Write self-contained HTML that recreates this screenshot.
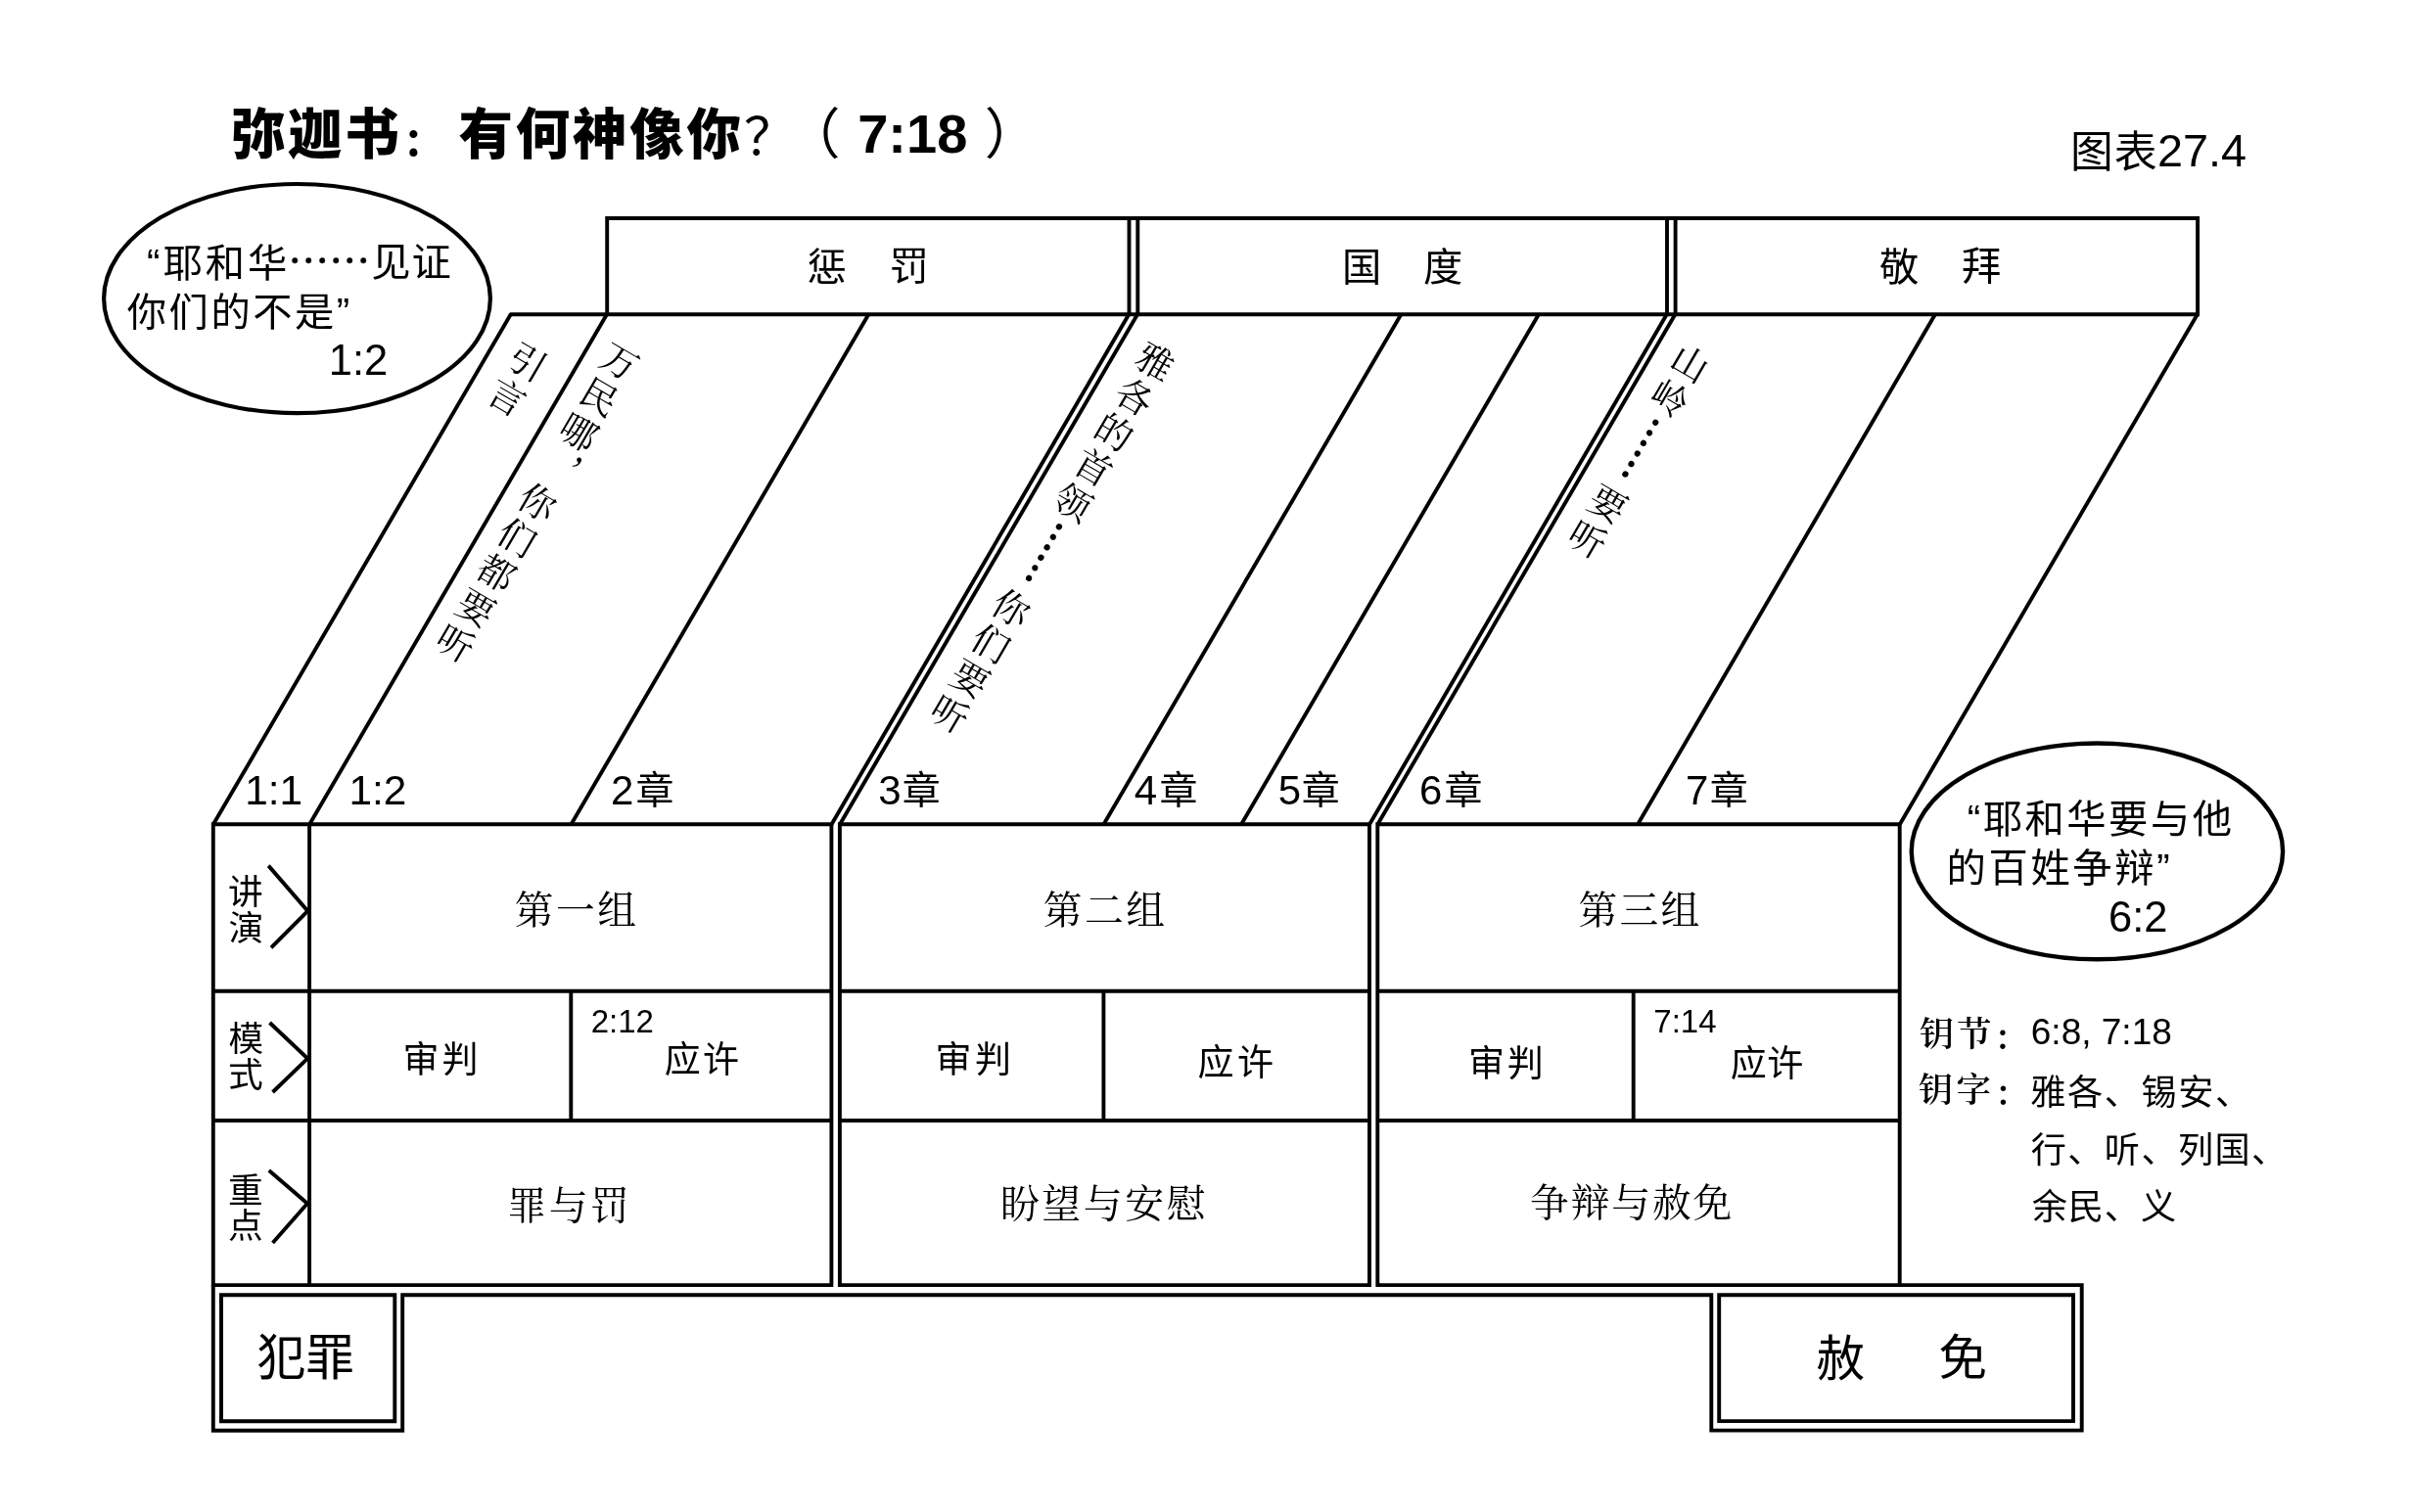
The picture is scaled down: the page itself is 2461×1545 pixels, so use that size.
<!DOCTYPE html>
<html lang="zh-CN"><head><meta charset="utf-8"><title>弥迦书：有何神像你？</title>
<style>
html,body{margin:0;padding:0;background:#fff;}
body{width:2461px;height:1545px;overflow:hidden;}
svg{display:block;filter:grayscale(1);}
.ln{fill:none;stroke:#000;stroke-width:3.9;stroke-linecap:butt;stroke-linejoin:miter;}
text{fill:#000;}
.sans{font-family:"Liberation Sans","Noto Sans CJK SC",sans-serif;}
.cjk{font-family:"Noto Sans CJK SC","Liberation Sans",sans-serif;}
.song{font-family:"Liberation Serif","Noto Serif CJK SC",serif;}
.kai{font-family:"Noto Serif CJK SC","Liberation Serif",serif;font-weight:400;}
</style></head><body>
<svg width="2461" height="1545" viewBox="0 0 2461 1545">
<rect x="0" y="0" width="2461" height="1545" fill="#fff"/>
<!-- header boxes -->
<path class="ln" d="M620.2 223.0 L2245.1 223.0 L2245.1 321.2 L620.2 321.2 Z"/>
<line class="ln" x1="1153.5" y1="223.0" x2="1153.5" y2="321.2"/>
<line class="ln" x1="1162.3" y1="223.0" x2="1162.3" y2="321.2"/>
<line class="ln" x1="1703.0" y1="223.0" x2="1703.0" y2="321.2"/>
<line class="ln" x1="1711.6" y1="223.0" x2="1711.6" y2="321.2"/>
<!-- slanted chapter band -->
<line class="ln" x1="520.8" y1="321.2" x2="620.2" y2="321.2"/>
<line class="ln" x1="217.8" y1="842.6" x2="522.0" y2="320.8"/>
<line class="ln" x1="316.1" y1="842.6" x2="620.2" y2="320.8"/>
<line class="ln" x1="583.4" y1="842.6" x2="887.6" y2="320.8"/>
<line class="ln" x1="849.4" y1="842.6" x2="1153.5" y2="320.8"/>
<line class="ln" x1="857.9" y1="842.6" x2="1162.3" y2="320.8"/>
<line class="ln" x1="1127.4" y1="842.6" x2="1431.6" y2="320.8"/>
<line class="ln" x1="1268.0" y1="842.6" x2="1572.2" y2="320.8"/>
<line class="ln" x1="1399.0" y1="842.6" x2="1703.0" y2="320.8"/>
<line class="ln" x1="1407.3" y1="842.6" x2="1711.6" y2="320.8"/>
<line class="ln" x1="1673.0" y1="842.6" x2="1977.2" y2="320.8"/>
<line class="ln" x1="1940.7" y1="842.6" x2="2245.1" y2="320.8"/>
<!-- table -->
<path class="ln" d="M217.8 842.2 L849.4 842.2 L849.4 1313.1 L217.8 1313.1 Z"/>
<line class="ln" x1="217.8" y1="1012.8" x2="849.4" y2="1012.8"/>
<line class="ln" x1="217.8" y1="1145.0" x2="849.4" y2="1145.0"/>
<path class="ln" d="M857.9 842.2 L1399.0 842.2 L1399.0 1313.1 L857.9 1313.1 Z"/>
<line class="ln" x1="857.9" y1="1012.8" x2="1399.0" y2="1012.8"/>
<line class="ln" x1="857.9" y1="1145.0" x2="1399.0" y2="1145.0"/>
<path class="ln" d="M1407.3 842.2 L1940.7 842.2 L1940.7 1313.1 L1407.3 1313.1 Z"/>
<line class="ln" x1="1407.3" y1="1012.8" x2="1940.7" y2="1012.8"/>
<line class="ln" x1="1407.3" y1="1145.0" x2="1940.7" y2="1145.0"/>
<line class="ln" x1="316.1" y1="842.2" x2="316.1" y2="1313.1"/>
<line class="ln" x1="583.3" y1="1012.8" x2="583.3" y2="1145.0"/>
<line class="ln" x1="1127.4" y1="1012.8" x2="1127.4" y2="1145.0"/>
<line class="ln" x1="1668.7" y1="1012.8" x2="1668.7" y2="1145.0"/>
<!-- row arrows -->
<path class="ln" d="M274.3 884.6 L314.4 931.0 L277.0 968.4"/>
<path class="ln" d="M275.5 1045.0 L314.2 1081.6 L278.6 1116.0"/>
<path class="ln" d="M274.8 1196.0 L314.0 1229.7 L278.6 1270.0"/>
<!-- bottom frame -->
<path class="ln" d="M1940.7 1313.1 L2126.7 1313.1 L2126.7 1461.6 L1748.3 1461.6 L1748.3 1323.2 L411.2 1323.2 L411.2 1461.7 L217.8 1461.7 L217.8 1313.1"/>
<path class="ln" d="M226.0 1323.2 L403.3 1323.2 L403.3 1452.3 L226.0 1452.3 Z"/>
<path class="ln" d="M1756.2 1323.3 L2118.0 1323.3 L2118.0 1452.1 L1756.2 1452.1 Z"/>
<!-- ellipses -->
<ellipse class="ln" cx="303.5" cy="305.1" rx="197.4" ry="117.1" style="stroke-width:4.2"/>
<ellipse class="ln" cx="2142.4" cy="869.9" rx="189.7" ry="110.4" style="stroke-width:4.4"/>
<!-- labels -->
<text id="t1" class="cjk" x="235.8 294.0 352.2 412.8 468.6 526.8 585.0 643.2 701.4" y="157.1 157.1 157.1 159.0 157.1 157.1 157.1 157.1 157.1" style="font-size:55.5px;font-weight:900;">弥迦书<tspan style="font-size:38.5px">：</tspan>有何神像你</text>
<text id="t2" class="cjk" x="760.1" y="159.2" style="font-size:53.5px;">？</text>
<text id="t3" class="cjk" x="802.4" y="156.8" style="font-size:56px;">（</text>
<text id="t4" class="sans" x="876.2" y="155.5" style="font-size:56px;font-weight:700;">7:18</text>
<text id="t5" class="cjk" x="1005.8" y="156.8" style="font-size:56px;">）</text>
<text id="fig1" class="sans" x="2115.0 2159.8" y="171.2" style="font-size:43.8px;">图表</text>
<text id="fig2" class="sans" x="2203.9" y="170.3" style="font-size:46.8px;">27.4</text>
<text id="h1a" class="sans" x="824.6" y="286.8" style="font-size:40.3px;">惩</text>
<text id="h1b" class="sans" x="908.4" y="285.8" style="font-size:40.3px;">罚</text>
<text id="h2a" class="sans" x="1371.0" y="286.9" style="font-size:40.3px;">国</text>
<text id="h2b" class="sans" x="1454.0" y="286.9" style="font-size:40.3px;">度</text>
<text id="h3a" class="sans" x="1920.0" y="286.8" style="font-size:40.3px;">敬</text>
<text id="h3b" class="sans" x="2004.0" y="286.3" style="font-size:40.3px;">拜</text>
<text id="e1a" class="sans" x="150.0" y="283.2" style="font-size:40.3px;letter-spacing:2.99px;">“耶和华</text>
<text id="e1b" class="cjk" x="294.2" y="281.9" style="font-size:42px;stroke:#000;stroke-width:0.4px;">……</text>
<text id="e1c" class="sans" x="379.2" y="282.2" style="font-size:40.3px;letter-spacing:1.09px;">见证</text>
<text id="e1d" class="sans" x="129.8" y="333.2" style="font-size:40.3px;letter-spacing:2.5px;">你们的不是”</text>
<text id="e1e" class="sans" x="335.7" y="383.2" style="font-size:43.5px;">1:2</text>
<text id="e2a" class="sans" x="2009.8" y="851.4" style="font-size:40.3px;letter-spacing:2.5px;">“耶和华要与他</text>
<text id="e2b" class="sans" x="1988.6" y="901.3" style="font-size:40.3px;letter-spacing:2.62px;">的百姓争辩”</text>
<text id="e2c" class="sans" x="2154.0" y="951.9" style="font-size:43.5px;">6:2</text>
<text id="c11" class="sans" x="250.2" y="822.3" style="font-size:42.4px;">1:1</text>
<text id="c12" class="sans" x="356.4" y="822.3" style="font-size:42.4px;">1:2</text>
<text id="cd2" class="sans" x="624.0" y="821.8" style="font-size:42px;">2</text>
<text id="cz2" class="sans" x="649.4" y="821.1" style="font-size:39px;">章</text>
<text id="cd3" class="sans" x="897.2" y="821.8" style="font-size:42px;">3</text>
<text id="cz3" class="sans" x="921.8" y="821.1" style="font-size:39px;">章</text>
<text id="cd4" class="sans" x="1158.8" y="821.8" style="font-size:42px;">4</text>
<text id="cz4" class="sans" x="1184.4" y="821.1" style="font-size:39px;">章</text>
<text id="cd5" class="sans" x="1305.7" y="821.8" style="font-size:42px;">5</text>
<text id="cz5" class="sans" x="1329.8" y="821.1" style="font-size:39px;">章</text>
<text id="cd6" class="sans" x="1450.0" y="821.8" style="font-size:42px;">6</text>
<text id="cz6" class="sans" x="1475.4" y="821.1" style="font-size:39px;">章</text>
<text id="cd7" class="sans" x="1721.9" y="821.8" style="font-size:42px;">7</text>
<text id="cz7" class="sans" x="1746.8" y="821.1" style="font-size:39px;">章</text>
<text id="r1a" class="sans" x="233.0" y="923.5" style="font-size:35.7px;">讲</text>
<text id="r1b" class="sans" x="233.5" y="960.7" style="font-size:35.7px;">演</text>
<text id="r2a" class="sans" x="233.5" y="1074.1" style="font-size:35.7px;">模</text>
<text id="r2b" class="sans" x="233.0" y="1111.4" style="font-size:35.7px;">式</text>
<text id="r3a" class="sans" x="233.1" y="1229.2" style="font-size:35.7px;">重</text>
<text id="r3b" class="sans" x="233.1" y="1265.4" style="font-size:35.7px;">点</text>
<text id="g1" class="song" x="525.7" y="943.7" style="font-size:39.8px;letter-spacing:2.49px;">第一组</text>
<text id="g2" class="song" x="1065.7" y="943.7" style="font-size:39.8px;letter-spacing:2.49px;">第二组</text>
<text id="g3" class="song" x="1612.4" y="944.1" style="font-size:39.8px;letter-spacing:2.22px;">第三组</text>
<text id="j1" class="sans" x="411.6" y="1095.8" style="font-size:37px;letter-spacing:2.93px;">审判</text>
<text id="j2" class="sans" x="955.4" y="1095.8" style="font-size:37px;letter-spacing:3.72px;">审判</text>
<text id="j3" class="sans" x="1500.0" y="1100.2" style="font-size:37px;letter-spacing:2.69px;">审判</text>
<text id="p1" class="sans" x="678.8" y="1095.8" style="font-size:37px;letter-spacing:2.15px;">应许</text>
<text id="p2" class="sans" x="1223.6" y="1099.4" style="font-size:37px;letter-spacing:3.5px;">应许</text>
<text id="p3" class="sans" x="1767.8" y="1100.2" style="font-size:37px;letter-spacing:0.34px;">应许</text>
<text id="v1" class="sans" x="603.7" y="1055.1" style="font-size:33px;">2:12</text>
<text id="v2" class="sans" x="1689.3" y="1055.1" style="font-size:33px;">7:14</text>
<text id="f1" class="song" x="518.2" y="1246.3" style="font-size:39.8px;letter-spacing:2.65px;">罪与罚</text>
<text id="f2" class="song" x="1021.9" y="1243.8" style="font-size:39.8px;letter-spacing:2.68px;">盼望与安慰</text>
<text id="f3" class="song" x="1563.1" y="1243.4" style="font-size:39.8px;letter-spacing:1.82px;">争辩与赦免</text>
<text id="k1" class="song" x="1960.7" y="1068.5 1068.5 1073.0" style="font-size:35.4px;font-weight:600;letter-spacing:2.8px;">钥节：</text>
<text id="k2" class="sans" x="2074.8" y="1067.3" style="font-size:37px;">6:8, 7:18</text>
<text id="k3" class="song" x="1959.7" y="1125.6 1125.6 1130.1" style="font-size:35.4px;font-weight:600;letter-spacing:3.45px;">钥字：</text>
<text id="k4" class="cjk" x="2074.2" y="1128.9" style="font-size:36.2px;letter-spacing:1.57px;">雅各、锡安、</text>
<text id="k5" class="cjk" x="2074.8" y="1187.7" style="font-size:36.2px;letter-spacing:1.35px;">行、听、列国、</text>
<text id="k6" class="cjk" x="2075.8" y="1245.8" style="font-size:36.2px;letter-spacing:0.85px;">余民、义</text>
<text id="b1" class="sans" x="262.5" y="1404.8" style="font-size:49.7px;">犯罪</text>
<text id="b2a" class="sans" x="1855.4" y="1405.6" style="font-size:49.7px;">赦</text>
<text id="b2b" class="sans" x="1980.2" y="1405.0" style="font-size:49.7px;">免</text>
<!-- slanted verse captions: upright glyphs stacked along the band direction -->
<g id="s1" transform="translate(539.2,369.7) rotate(30.28)">
<text class="kai" x="-18.8 -18.8" y="14.2 55.9" style="font-size:37.5px">引言</text>
</g>
<g id="s2" transform="translate(633.5,369.1) rotate(30.28)">
<text class="kai" x="-18.8 -18.8 -18.8 8.8 -18.8 -18.8 -18.8 -18.8 -18.8" y="14.2 55.9 97.6 110.3 180.9 222.6 264.3 305.9 347.6" style="font-size:37.5px">万民哪，你们都要听</text>
</g>
<g id="s3" transform="translate(1180.5,369.2) rotate(30.28)">
<text class="kai" x="-18.8 -18.8 -18.8 -18.8 -18.8" y="14.2 55.9 97.6 139.3 180.9" style="font-size:37.5px">雅各的首领</text>
<text class="kai" transform="rotate(90)" x="189.59" y="13.91" style="font-size:36.6px;stroke:#000;stroke-width:2.2px;stroke-linejoin:round">……</text>
<text class="kai" x="-18.8 -18.8 -18.8 -18.8" y="305.9 347.6 389.3 431.0" style="font-size:37.5px">你们要听</text>
</g>
<g id="s4" transform="translate(1726.9,370.8) rotate(30.28)">
<text class="kai" x="-18.8 -18.8" y="14.2 55.9" style="font-size:37.5px">山岭</text>
<text class="kai" transform="rotate(90)" x="64.58" y="13.91" style="font-size:36.6px;stroke:#000;stroke-width:2.2px;stroke-linejoin:round">……</text>
<text class="kai" x="-18.8 -18.8" y="180.9 222.6" style="font-size:37.5px">要听</text>
</g>
</svg></body></html>
